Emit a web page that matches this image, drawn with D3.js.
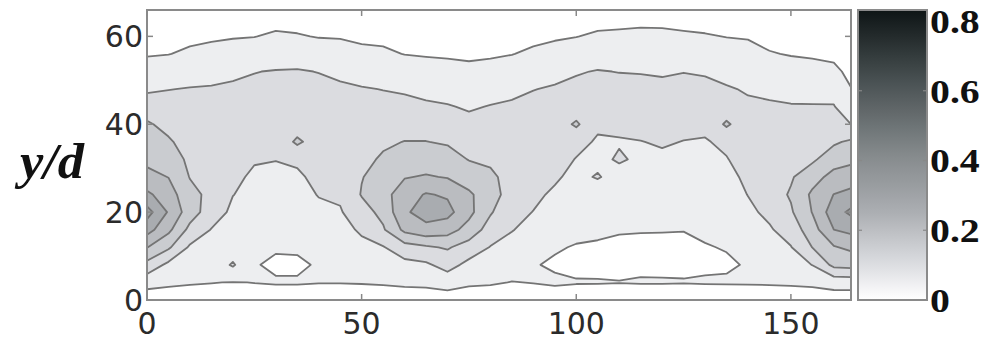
<!DOCTYPE html>
<html>
<head>
<meta charset="utf-8">
<script src="https://cdn.jsdelivr.net/npm/d3@7"></script>
<style>
  body { margin: 0; background: #fff; }
</style>
</head>
<body>
<div id="chart"></div>
<script>
// grid: columns every 5 in x, rows every 4 in y/d
const xCols = [0, 5, 10, 15, 20, 25, 30, 35, 40, 45, 50, 55, 60, 65, 70, 75, 80,
               85, 90, 95, 100, 105, 110, 115, 120, 125, 130, 135, 140, 145, 150, 155, 160, 165];
const yRows = [0, 4, 8, 12, 16, 20, 24, 28, 32, 36, 40, 44, 48, 52, 56, 60, 64, 68];

// values x100, one line per x column, bottom (y=0) to top (y=68)
const zCols = [
  [2, 6.9, 13.4, 20.2, 27, 32, 26, 21.4, 18.9, 17.3, 15.6, 12.6, 9.2, 6.6, 4.7, 3.8, 2.9, 2],
  [2.7, 5.8, 8.8, 15.8, 21.2, 24.5, 22.3, 19.9, 17.8, 15.6, 13.6, 11.8, 9.9, 7.5, 4.9, 4, 3, 2],
  [3.2, 5.3, 7.3, 9.3, 13.6, 17.3, 16.5, 14.8, 13.9, 13, 12, 11.1, 10.2, 8.1, 5.6, 4.2, 3.1, 2],
  [3.3, 5.1, 6.6, 8.2, 9.8, 12.5, 13.7, 13.1, 12.6, 12, 11.4, 10.9, 10.3, 8.8, 6.3, 4.4, 3.2, 2],
  [3.9, 4.9, 10.6, 7, 8, 9, 10.1, 10.8, 11.7, 12.5, 11.8, 11.2, 10.5, 9.4, 6.9, 4.7, 3.3, 2],
  [3.8, 5.05, 5.2, 6, 7, 8, 8.7, 9.4, 10.3, 11.1, 12, 11.3, 10.7, 9.9, 7.5, 4.9, 3.5, 2.2],
  [3, 5.3, 4.5, 5.3, 6.5, 7.5, 8.3, 9.1, 10.1, 11, 12, 11.6, 11, 10.2, 7.9, 5.6, 3.7, 2.2],
  [3, 5.3, 4.5, 5.4, 6.6, 7.6, 8.5, 9.4, 10.6, 16, 12.2, 11.7, 11, 10.3, 8, 5.3, 3.6, 2],
  [3.2, 5.1, 5.3, 6.5, 7.8, 9, 10.2, 11, 11.8, 12.3, 12.5, 12, 11, 9.9, 7.3, 4.8, 3.4, 2],
  [3.2, 5.1, 6.1, 7.3, 8.4, 9.6, 10.7, 11.9, 12.6, 12.8, 12.4, 11.5, 10.7, 9.1, 6.8, 4.7, 3.3, 2],
  [3, 5.2, 7, 8.8, 10.7, 13, 15.3, 14.8, 13.8, 13, 12.2, 11.3, 10.3, 8.2, 5.9, 4.3, 3.1, 2],
  [2.8, 5.4, 7.5, 9.7, 14.4, 16.4, 18.2, 16.9, 15.6, 14.3, 12.9, 11.4, 9.9, 7.8, 5.6, 4.2, 3.1, 2],
  [2.9, 5.7, 8.5, 13, 21.2, 24.2, 22.7, 19.7, 17.4, 15.1, 13.2, 11.4, 9.4, 7.2, 4.9, 4, 3, 2],
  [2.2, 6.2, 9.2, 14.3, 23.4, 27.2, 25.4, 20.4, 17.6, 15.1, 12.9, 10.8, 8.6, 6.5, 4.7, 3.8, 2.9, 2],
  [2.5, 7.1, 11.9, 15.5, 22.1, 26.6, 24.4, 19.7, 17, 14.5, 12.4, 10.3, 8.2, 6.1, 4.6, 3.7, 2.9, 2],
  [2.6, 5.7, 8.6, 12.9, 18.1, 21.4, 20.7, 17.9, 14.8, 13, 11.3, 9.5, 7.6, 5.7, 4.5, 3.7, 2.8, 2],
  [2.7, 5.4, 7.6, 9.8, 12.8, 15.5, 17.5, 15.8, 14.3, 12.9, 11.6, 10.2, 8.2, 6.1, 4.6, 3.7, 2.9, 2],
  [3.2, 4.9, 6.7, 8.5, 10.2, 11.3, 12.4, 13.5, 13.3, 12.5, 11.7, 10.5, 9.2, 6.9, 4.9, 3.9, 2.9, 2],
  [3.3, 5.1, 5.2, 7.3, 8.6, 9.9, 10.9, 11.9, 13, 13.2, 12.1, 11.1, 9.9, 7.8, 5.6, 4.2, 3.1, 2],
  [3, 5.5, 4.6, 5.3, 6.7, 8, 9.3, 10.6, 11.8, 13, 12.1, 11.3, 10.4, 8.8, 6.5, 4.5, 3.3, 2],
  [3, 5.2, 4.3, 4.8, 5.8, 6.8, 7.8, 8.8, 9.8, 11.3, 15.8, 11.9, 10.9, 9.7, 7.4, 4.9, 3.5, 2],
  [2.8, 5.2, 4.2, 4.6, 5.6, 6.3, 7.1, 10.4, 8.7, 9.5, 10.7, 12.5, 11, 10.2, 7.9, 5.6, 3.7, 2],
  [2.6, 5.1, 4.1, 4.5, 5.2, 6.2, 7.1, 8, 10.6, 9.6, 11.2, 12.5, 11.3, 9.9, 7.9, 5.8, 3.8, 2],
  [1.5, 5.3, 4.3, 4.6, 5.1, 6.1, 7.1, 8.1, 9.1, 9.9, 11.3, 12.5, 11.2, 9.8, 7.9, 6, 4, 2],
  [1.5, 5.3, 4.2, 4.5, 5.1, 6.2, 7.2, 8.3, 9.3, 10.4, 11.4, 12.5, 11.1, 9.5, 7.7, 5.9, 4, 2],
  [1.2, 5.2, 4.3, 4.6, 5.05, 6.05, 7, 8, 8.9, 9.9, 11.2, 12.5, 11.3, 9.9, 7.8, 5.6, 3.7, 2],
  [1.2, 5.4, 4.4, 4.8, 5.6, 6.4, 7.2, 8.1, 8.9, 9.7, 10.9, 12.3, 11.3, 9.5, 7.4, 5.3, 3.6, 2],
  [1.2, 5.5, 4.5, 5.2, 6.1, 7, 8, 8.9, 9.8, 10.8, 15.8, 11.8, 10.4, 8.6, 6.8, 4.9, 3.5, 2],
  [1.5, 5.5, 5.3, 7.2, 8.2, 9.1, 10.1, 10.8, 11.7, 12.5, 11.6, 10.7, 9.6, 7.9, 6.3, 4.7, 3.3, 2],
  [1.6, 5.6, 6.9, 8.2, 9.5, 11, 12.7, 13.5, 13.5, 13, 11.8, 10.6, 9, 7.1, 5.2, 4.1, 3, 2],
  [1.8, 5.8, 7.8, 9.8, 12.1, 14.4, 15.5, 14.5, 13.4, 12.4, 11.3, 10.3, 8.5, 6.5, 4.8, 3.8, 2.9, 2],
  [2.2, 6, 10.1, 15.1, 17.9, 20.2, 20.9, 18, 14.2, 12.9, 11.6, 10.3, 8.3, 6.1, 4.6, 3.7, 2.9, 2],
  [2.5, 6.9, 16.3, 19.6, 25, 27.7, 25.1, 21.7, 17.8, 14.3, 12.3, 10.3, 7.9, 5.6, 4.4, 3.6, 2.8, 2],
  [2.5, 7, 17, 21.3, 26.7, 32, 27, 22.5, 19.2, 16.2, 9.4, 4.9, 4.5, 4, 3.5, 3, 2.5, 2]
];

const levels = [0, 0.05, 0.1, 0.15, 0.2, 0.25, 0.3];
const xTicks = [0, 50, 100, 150];
const yTicks = [0, 20, 40, 60];
const cbTicks = [0, 0.2, 0.4, 0.6, 0.8];

const width = 982, height = 342;
const plot = {left: 147, right: 851, top: 10, bottom: 300};
const cb = {left: 858, right: 927, top: 10, bottom: 300};

const svg = d3.select("#chart").append("svg")
    .attr("width", width)
    .attr("height", height)
    .style("background", "#fff");

const x = d3.scaleLinear().domain([0, 164]).range([plot.left, plot.right]);
const y = d3.scaleLinear().domain([0, 66]).range([plot.bottom, plot.top]);

// grey map of the colour bar (white at 0, slate black at 0.8)
const gray = d3.scaleLinear()
    .domain([0, 0.1, 0.25, 0.4, 0.6, 0.8])
    .range(["#ffffff", "#dbdce0", "#a9acb0", "#858a8c", "#4a5254", "#0e1515"]);

// flatten columns into the row-major grid d3.contours wants
const nx = xCols.length, ny = yRows.length;
const values = new Array(nx * ny);
zCols.forEach(function(col, i) {
    col.forEach(function(v, j) { values[j * nx + i] = v / 100; });
});

// grid coords -> data coords (sample k sits at k + 0.5)
const gx = d3.scaleLinear().domain([0.5, nx - 0.5]).range([xCols[0], xCols[nx - 1]]);
const gy = d3.scaleLinear().domain([0.5, ny - 0.5]).range([yRows[0], yRows[ny - 1]]);

const toScreen = d3.geoTransform({
    point: function(px, py) { this.stream.point(x(gx(px)), y(gy(py))); }
});
const path = d3.geoPath(toScreen);

const bands = d3.contours().size([nx, ny]).thresholds(levels)(values);

svg.append("clipPath").attr("id", "plotClip")
  .append("rect")
    .attr("x", plot.left).attr("y", plot.top)
    .attr("width", plot.right - plot.left)
    .attr("height", plot.bottom - plot.top);

const g = svg.append("g").attr("clip-path", "url(#plotClip)");

g.selectAll("path")
    .data(bands)
    .join("path")
    .attr("d", path)
    .attr("fill", function(d) { return gray(d.value); })
    .attr("stroke", function(d) { return d.value > 0 ? "#747474" : "none"; })
    .attr("stroke-width", 1.8)
    .attr("stroke-linejoin", "round");

// frame
svg.append("rect")
    .attr("x", plot.left).attr("y", plot.top)
    .attr("width", plot.right - plot.left)
    .attr("height", plot.bottom - plot.top)
    .attr("fill", "none")
    .attr("stroke", "#8a8a8a")
    .attr("stroke-width", 2);

// inward ticks on all four sides
const tickLen = 6;
const ticks = svg.append("g").attr("stroke", "#888").attr("stroke-width", 1.5);
xTicks.forEach(function(t) {
    ticks.append("line").attr("x1", x(t)).attr("x2", x(t))
        .attr("y1", plot.bottom).attr("y2", plot.bottom - tickLen);
    ticks.append("line").attr("x1", x(t)).attr("x2", x(t))
        .attr("y1", plot.top).attr("y2", plot.top + tickLen);
});
yTicks.forEach(function(t) {
    ticks.append("line").attr("y1", y(t)).attr("y2", y(t))
        .attr("x1", plot.left).attr("x2", plot.left + tickLen);
    ticks.append("line").attr("y1", y(t)).attr("y2", y(t))
        .attr("x1", plot.right).attr("x2", plot.right - tickLen);
});

// tick labels
svg.append("g").selectAll("text")
    .data(xTicks)
    .join("text")
    .attr("x", function(d) { return x(d); })
    .attr("y", 323)
    .attr("dy", "0.35em")
    .style("text-anchor", "middle")
    .style("font-family", "DejaVu Sans, sans-serif")
    .style("font-size", "30px")
    .style("fill", "#2b2b2b")
    .text(function(d) { return d; });

svg.append("g").selectAll("text")
    .data(yTicks)
    .join("text")
    .attr("x", 143)
    .attr("y", function(d) { return y(d); })
    .attr("dy", "0.35em")
    .style("text-anchor", "end")
    .style("font-family", "DejaVu Sans, sans-serif")
    .style("font-size", "30px")
    .style("fill", "#2b2b2b")
    .text(function(d) { return d; });

// y label
svg.append("text")
    .attr("transform", "translate(52,178) scale(1.05,1)")
    .style("text-anchor", "middle")
    .style("font-family", "Liberation Serif, serif")
    .style("font-weight", "bold")
    .style("font-style", "italic")
    .style("font-size", "50px")
    .style("fill", "#111")
    .text("y/d");

// colour bar
const cbY = d3.scaleLinear().domain([0, 0.8]).range([cb.bottom, cb.top]);
const cbLabelY = d3.scaleLinear().domain([0, 0.8]).range([300, 21]);

const grad = svg.append("defs").append("linearGradient")
    .attr("id", "cbGrad")
    .attr("x1", 0).attr("y1", 1).attr("x2", 0).attr("y2", 0);
d3.range(0, 1.0001, 0.05).forEach(function(t) {
    grad.append("stop")
        .attr("offset", t)
        .attr("stop-color", gray(cbY.invert(cb.bottom - t * (cb.bottom - cb.top))));
});

svg.append("rect")
    .attr("x", cb.left).attr("y", cb.top)
    .attr("width", cb.right - cb.left)
    .attr("height", cb.bottom - cb.top)
    .attr("fill", "url(#cbGrad)")
    .attr("stroke", "#8a8a8a")
    .attr("stroke-width", 2);

const cbTickG = svg.append("g").attr("stroke", "#888").attr("stroke-width", 1.2);
cbTicks.slice(1, -1).forEach(function(t) {
    cbTickG.append("line").attr("x1", cb.left).attr("x2", cb.left + 4)
        .attr("y1", cbLabelY(t)).attr("y2", cbLabelY(t));
    cbTickG.append("line").attr("x1", cb.right).attr("x2", cb.right - 4)
        .attr("y1", cbLabelY(t)).attr("y2", cbLabelY(t));
});

// labels are a little wide in the original, so stretch them sideways
svg.append("g").selectAll("text")
    .data(cbTicks)
    .join("text")
    .attr("transform", function(d) { return `translate(930, ${cbLabelY(d)}) scale(1.17,1)`; })
    .attr("dy", "0.35em")
    .style("text-anchor", "start")
    .style("font-family", "Liberation Serif, serif")
    .style("font-weight", "bold")
    .style("font-size", "34px")
    .style("fill", "#111")
    .text(function(d) { return d; });
</script>
</body>
</html>
